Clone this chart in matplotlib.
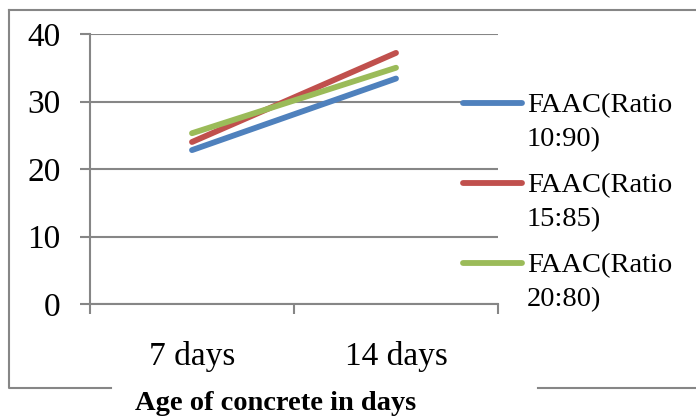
import matplotlib
matplotlib.use("Agg")
import matplotlib.pyplot as plt
from matplotlib.lines import Line2D

plt.rcParams['font.family'] = ['Liberation Serif', 'DejaVu Serif']

ages = ['7 days', '14 days']
ratio_10_90 = [22.8, 33.4]
ratio_15_85 = [24.0, 37.2]
ratio_20_80 = [25.3, 35.0]
labels = ['FAAC(Ratio\n10:90)', 'FAAC(Ratio\n15:85)', 'FAAC(Ratio\n20:80)']
colors = ['#4F81BD', '#C0504D', '#9BBB59']

grey = '#868686'
fig = plt.figure(figsize=(6.96, 4.2), dpi=100)
ax = fig.add_axes([90/696, 1-304/420, 408/696, 270/420])

xs = [i + 0.5 for i in range(len(ages))]
for vals, lab, c in zip([ratio_10_90, ratio_15_85, ratio_20_80], labels, colors):
    ax.plot(xs, vals, color=c, lw=4.2, solid_capstyle='round', label=lab)

ax.set_xlim(0, len(ages))
ax.set_ylim(0, 40)
ax.set_yticks([0, 10, 20, 30, 40])
ax.yaxis.grid(True, color=grey, lw=1.5)
ax.set_axisbelow(True)
ax.set_xticks([0, 1, 2])
ax.set_xticklabels([])
ax.set_xticks(xs, minor=True)
ax.set_xticklabels(ages, minor=True)
ax.tick_params(axis='x', which='major', length=7, width=1.5, color=grey)
ax.tick_params(axis='x', which='minor', length=0, pad=27, labelsize=24)
ax.tick_params(axis='y', length=7, width=1.5, color=grey, pad=14, labelsize=24)
for s in ['top', 'right']:
    ax.spines[s].set_visible(False)
for s in ['left', 'bottom']:
    ax.spines[s].set_color(grey)
    ax.spines[s].set_linewidth(1.5)

# legend drawn by hand so the key sits on the first text line
for i, (lab, c) in enumerate(zip(labels, colors)):
    y = 1 - (103 + 80 * i) / 420
    fig.add_artist(Line2D([463/696, 522/696], [y, y], transform=fig.transFigure,
                          color=c, lw=4.2, solid_capstyle='round'))
    fig.text(527/696, y + 10/420, lab, fontsize=20.5, va='top', ha='left',
             linespacing=1.45)

# outer frame of the chart
fx0, fy0, fy1 = 9/696, 1-388/420, 1-10/420
fig.add_artist(Line2D([fx0, 1, 1], [fy1, fy1, fy1], transform=fig.transFigure, color=grey, lw=1.5))
fig.add_artist(Line2D([fx0, fx0, 111/696], [fy1, fy0, fy0], transform=fig.transFigure, color=grey, lw=1.5))
fig.add_artist(Line2D([538/696, 1], [fy0, fy0], transform=fig.transFigure, color=grey, lw=1.5))

fig.text(276/696, 1-403/420, 'Age of concrete in days', fontsize=20.5, fontweight='bold',
         ha='center', va='center')

fig.savefig('out.png', dpi=100, facecolor='white')
